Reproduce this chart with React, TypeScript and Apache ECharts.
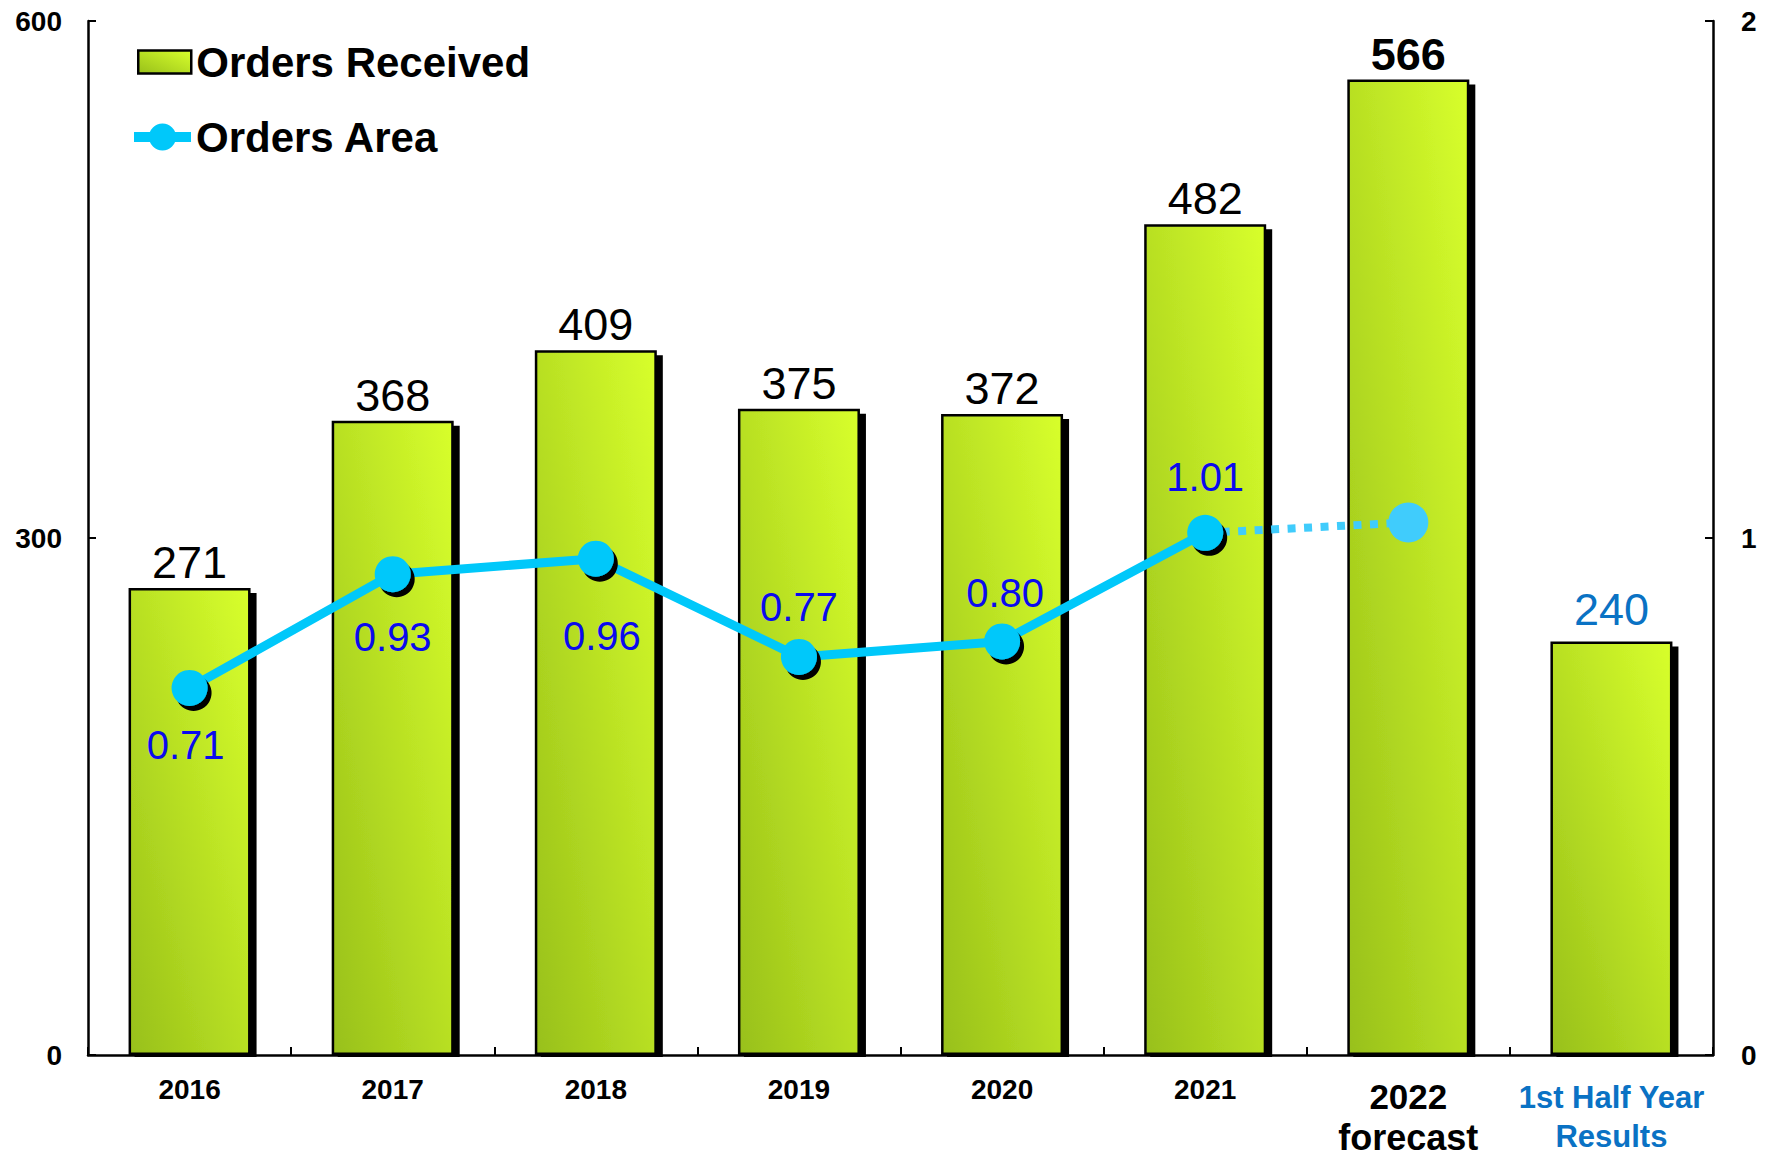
import React, { useEffect, useRef } from "react";
import * as echarts from "echarts";

const categories = ["2016", "2017", "2018", "2019", "2020", "2021", "2022\nforecast", "1st Half Year\nResults"];
const ordersReceived = [271, 368, 409, 375, 372, 482, 566, 240];
const ordersArea = [0.71, 0.93, 0.96, 0.77, 0.8, 1.01, null, null];
const ordersAreaForecast = [null, null, null, null, null, 1.01, 1.03, null];
const leftAxis = { min: 0, max: 600, interval: 300 };
const rightAxis = { min: 0, max: 2, interval: 1 };

// label offsets (styling, not data)
const areaLabelOffsets = [[-4, 57], [0, 63], [6, 77], [0, -50], [3, -48], [0, -56]];

const W = 1765;
const H = 1158;
const GRID = { left: 88, right: 52, top: 21, bottom: 103 };
const FONT = "'Liberation Sans', Arial, sans-serif";
const CYAN = "#00C8FA";
const CYAN_LIGHT = "#40CCFC";
const LABEL_BLUE = "#0A0AEE";
const HALF_BLUE = "#0A72C4";

export default function App() {
  const ref = useRef<HTMLDivElement>(null);

  useEffect(() => {
    if (!ref.current) return;
    const chart = echarts.init(ref.current, null, { renderer: "svg" });

    const barGradient = new echarts.graphic.LinearGradient(0, 1, 1, 0, [
      { offset: 0, color: "#98C01A" },
      { offset: 1, color: "#D8FF2C" },
    ]);

    const barData = ordersReceived.map((v, i) => {
      if (i === 6) return { value: v, label: { fontWeight: "bold" } };
      if (i === 7) return { value: v, label: { color: HALF_BLUE, distance: 9 } };
      return { value: v };
    });

    const areaData = ordersArea.map((v, i) => {
      if (v === null) return null;
      const off = areaLabelOffsets[i];
      return { value: v, label: { offset: off } };
    });

    const forecastData = ordersAreaForecast.map((v, i) => {
      if (v === null) return null;
      if (i === 5) return { value: v, symbol: "none" };
      return { value: v };
    });

    const axisFont = { fontFamily: FONT, fontSize: 28, fontWeight: "bold", color: "#000" };

    const option: any = {
      animation: false,
      backgroundColor: "#fff",
      textStyle: { fontFamily: FONT },
      grid: { ...GRID, containLabel: false, outerBoundsMode: "none" },
      legend: [
        {
          left: 137,
          top: 41,
          padding: 0,
          orient: "vertical",
          selectedMode: false,
          itemWidth: 53,
          itemHeight: 23,
          data: [{ name: "Orders Received", icon: "rect", itemStyle: { borderWidth: 2.5, borderColor: "#000" } }],
          textStyle: { fontFamily: FONT, fontSize: 42, fontWeight: "bold", color: "#000", lineHeight: 42 },
        },
        {
          left: 134,
          top: 116,
          padding: 0,
          orient: "vertical",
          selectedMode: false,
          itemWidth: 57,
          itemHeight: 27,
          data: [
            {
              name: "Orders Area",
              icon: "path://M0,8.5H57V18.5H0Z M42,13.5A13.5,13.5 0 1,1 15,13.5A13.5,13.5 0 1,1 42,13.5Z",
              itemStyle: { color: CYAN, borderWidth: 0 },
            },
          ],
          textStyle: { fontFamily: FONT, fontSize: 42, fontWeight: "bold", color: "#000", lineHeight: 42 },
        },
      ],
      xAxis: {
        type: "category",
        data: categories,
        boundaryGap: true,
        axisLine: { show: true, lineStyle: { color: "#000", width: 2.5 } },
        axisTick: { show: true, inside: true, length: 8, interval: 0, lineStyle: { color: "#000", width: 2 } },
        axisLabel: {
          ...axisFont,
          interval: 0,
          margin: 20,
          lineHeight: 28,
          formatter: (value: string, index: number) => {
            const lines = value.split("\n");
            if (index === 6) return `{y|${lines[0]}}\n{f|${lines[1]}}`;
            if (index === 7) return `{h1|${lines[0]}}\n{h2|${lines[1]}}`;
            return value;
          },
          rich: {
            y: { fontFamily: FONT, fontSize: 35, fontWeight: "bold", color: "#000", lineHeight: 43 },
            f: { fontFamily: FONT, fontSize: 36, fontWeight: "bold", color: "#000", lineHeight: 38 },
            h1: { fontFamily: FONT, fontSize: 31, fontWeight: "bold", color: HALF_BLUE, lineHeight: 44 },
            h2: { fontFamily: FONT, fontSize: 31, fontWeight: "bold", color: HALF_BLUE, lineHeight: 34 },
          },
        },
        splitLine: { show: false },
      },
      yAxis: [
        {
          type: "value",
          position: "left",
          ...leftAxis,
          axisLine: { show: true, lineStyle: { color: "#000", width: 2.5 } },
          axisTick: { show: true, inside: true, length: 8, lineStyle: { color: "#000", width: 2 } },
          axisLabel: { ...axisFont, margin: 26 },
          splitLine: { show: false },
        },
        {
          type: "value",
          position: "right",
          ...rightAxis,
          axisLine: { show: true, lineStyle: { color: "#000", width: 2.5 } },
          axisTick: { show: true, inside: true, length: 8, lineStyle: { color: "#000", width: 2 } },
          axisLabel: { ...axisFont, margin: 28 },
          splitLine: { show: false },
        },
      ],
      series: [
        {
          name: "Orders Received",
          type: "bar",
          yAxisIndex: 0,
          barWidth: 122,
          data: barData,
          z: 2,
          itemStyle: {
            color: barGradient,
            borderColor: "#000",
            borderWidth: 2.5,
            shadowColor: "#000",
            shadowBlur: 0,
            shadowOffsetX: 6,
            shadowOffsetY: 5,
          },
          label: {
            show: true,
            position: "top",
            distance: 3,
            fontFamily: FONT,
            fontSize: 45,
            color: "#000",
          },
        },
        {
          name: "Orders Area forecast",
          type: "line",
          yAxisIndex: 1,
          data: forecastData,
          z: 3,
          symbol: "circle",
          symbolSize: 40,
          lineStyle: { color: CYAN_LIGHT, width: 8, type: [8, 8.5], cap: "butt" },
          itemStyle: { color: CYAN_LIGHT },
          label: { show: false },
        },
        {
          name: "Orders Area",
          type: "line",
          yAxisIndex: 1,
          data: areaData,
          z: 4,
          symbol: "circle",
          symbolSize: 36,
          connectNulls: false,
          lineStyle: { color: CYAN, width: 9 },
          itemStyle: {
            color: CYAN,
            shadowColor: "#000",
            shadowBlur: 0,
            shadowOffsetX: 4,
            shadowOffsetY: 5,
          },
          label: {
            show: true,
            position: "inside",
            fontFamily: FONT,
            fontSize: 40,
            color: LABEL_BLUE,
            formatter: (p: any) => Number(p.value).toFixed(2),
          },
        },
      ],
      graphic: [
        {
          type: "rect",
          z: 100,
          silent: true,
          shape: {
            x: GRID.left + 2,
            y: H - GRID.bottom + 2,
            width: W - GRID.left - GRID.right - 4,
            height: 10,
          },
          style: { fill: "#fff" },
        },
      ],
    };

    chart.setOption(option);
    return () => chart.dispose();
  }, []);

  return (
    <div
      ref={ref}
      style={{ position: "fixed", left: 0, top: 0, width: W, height: H, background: "#fff" }}
    />
  );
}
